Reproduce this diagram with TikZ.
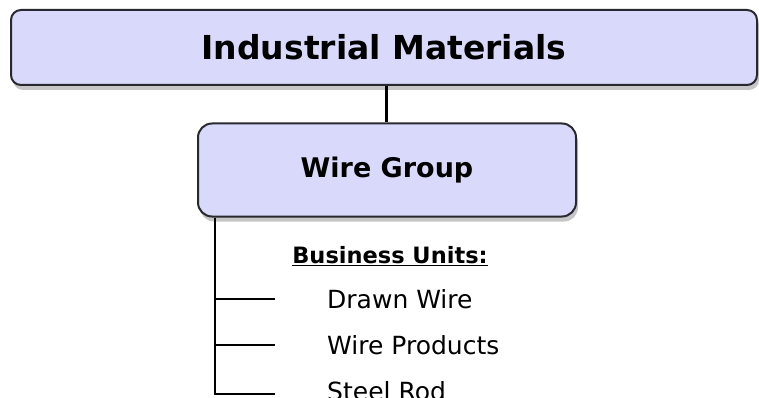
\documentclass[tikz,border=0pt]{standalone}
\usepackage{fontspec}
\setmainfont{DejaVu Sans}
\usepackage{xcolor}
\usetikzlibrary{positioning,shadows}
\definecolor{boxfill}{RGB}{217,217,251}
\definecolor{boxline}{RGB}{40,40,48}

\begin{document}
\begin{tikzpicture}[
    x=1pt, y=-1pt,
    box/.style={draw=boxline, line width=2pt, fill=boxfill, align=center,
        drop shadow={shadow xshift=2pt, shadow yshift=-5pt, opacity=0.45}},
    unit/.style={anchor=west, inner sep=0pt, font=\fontsize{25}{30}\selectfont},
    link/.style={line width=2pt}
]
\useasboundingbox (0,0) rectangle (759,398);
\node[box, rounded corners=10pt, minimum width=746pt, minimum height=75pt,
    font=\bfseries\fontsize{33}{39}\selectfont] (ind) at (384,47.5) {Industrial Materials};
\node[box, rounded corners=14pt, minimum width=378pt, minimum height=93pt,
    font=\bfseries\fontsize{27}{32}\selectfont] (wire) at (387,170) {Wire Group};
\draw[line width=3pt] (ind.south -| 386,0) -- (wire.north -| 386,0);

% business units
\node[inner sep=0pt, font=\bfseries\fontsize{22.5}{27}\selectfont] (bu) at (390,256) {\underline{Business Units:}};
\node[unit] (drawn) at (327,299) {Drawn Wire};
\node[unit] (prod) at (327,345) {Wire Products};
\node[unit] (rod) at (327,391) {Steel Rod};

\coordinate (trunk) at ([xshift=18pt]wire.south west);
\coordinate (trunkend) at ([xshift=-52pt,yshift=-3pt]rod.west);
\draw[link] (trunk) |- (trunkend);
\draw[link] (drawn.west -| trunk) -- ([xshift=-52pt]drawn.west);
\draw[link] (prod.west -| trunk) -- ([xshift=-52pt]prod.west);
\end{tikzpicture}
\end{document}
